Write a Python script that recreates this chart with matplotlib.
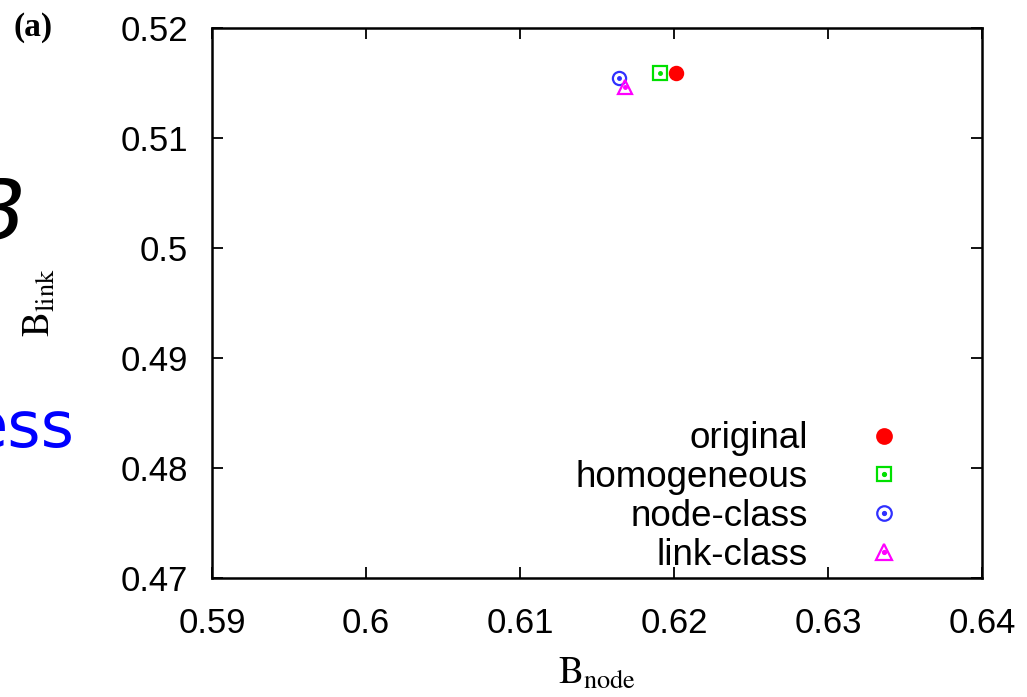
import matplotlib
matplotlib.use("Agg")
import matplotlib.pyplot as plt

# values
series = ["original", "homogeneous", "node-class", "link-class"]
b_node = [0.6201, 0.6191, 0.6164, 0.6168]
b_link = [0.5159, 0.5159, 0.5155, 0.5146]

xticks = [0.59, 0.60, 0.61, 0.62, 0.63, 0.64]
xlabels = ["0.59", "0.6", "0.61", "0.62", "0.63", "0.64"]
yticks = [0.47, 0.48, 0.49, 0.50, 0.51, 0.52]
ylabels = ["0.47", "0.48", "0.49", "0.5", "0.51", "0.52"]

colors = ["#ff0000", "#00e000", "#3030ff", "#ff00ff"]
markers = ["o", "s", "o", "^"]
filled = [True, False, False, False]

plt.rcParams["font.family"] = ["Liberation Sans", "DejaVu Sans"]
plt.rcParams["mathtext.fontset"] = "stix"

fig = plt.figure(figsize=(10.27, 6.97), dpi=100)
ax = fig.add_axes([0.2064, 0.1707, 0.7498, 0.7891])

handles = []
for name, x, y, c, m, f in zip(series, b_node, b_link, colors, markers, filled):
    h, = ax.plot([x], [y], linestyle="none", marker=m,
                 markersize=10 if m == "^" else 9.5,
                 markerfacecolor=c if f else "none", markeredgecolor=c,
                 markeredgewidth=1.6)
    if f:
        handles.append(h)
    else:
        # gnuplot style centre dot
        d, = ax.plot([x], [y], linestyle="none", marker="o", markersize=2.5, color=c)
        handles.append((h, d))

ax.set_xlim(0.59, 0.64)
ax.set_ylim(0.47, 0.52)
ax.set_xticks(xticks)
ax.set_xticklabels(xlabels)
ax.set_yticks(yticks)
ax.set_yticklabels(ylabels)
ax.tick_params(direction="in", length=8, width=1.3, top=True, right=True,
               labelsize=25, colors="black")
ax.tick_params(axis="x", pad=21)
ax.tick_params(axis="y", pad=17)
for s in ax.spines.values():
    s.set_linewidth(1.8)

ax.set_xlabel(r"$\mathrm{B}_{\mathrm{node}}$", fontsize=27, labelpad=11)
ax.set_ylabel(r"$\mathrm{B}_{\mathrm{link}}$", fontsize=27, labelpad=45)

# gnuplot-like key: labels right aligned, symbols to their right
leg = ax.legend(handles, series, loc="lower right", bbox_to_anchor=(0.896, 0.010),
                frameon=False, markerfirst=False, fontsize=26.5, handlelength=1.0,
                markerscale=1.1, handletextpad=1.55, labelspacing=0.1,
                borderaxespad=0.0, borderpad=0.0)

# fragments of the slide around the chart
fig.text(0.013, 0.96, "(a)", fontsize=24, family="Liberation Serif",
         fontweight="bold", ha="left", va="center")
fig.text(0.025, 0.69, "B", fontsize=62, style="italic", family="DejaVu Sans",
         ha="right", va="center")
fig.text(0.073, 0.385, "ess", fontsize=46, color="#0000ff", family="DejaVu Sans",
         ha="right", va="center")

fig.savefig("out.png", dpi=100)
